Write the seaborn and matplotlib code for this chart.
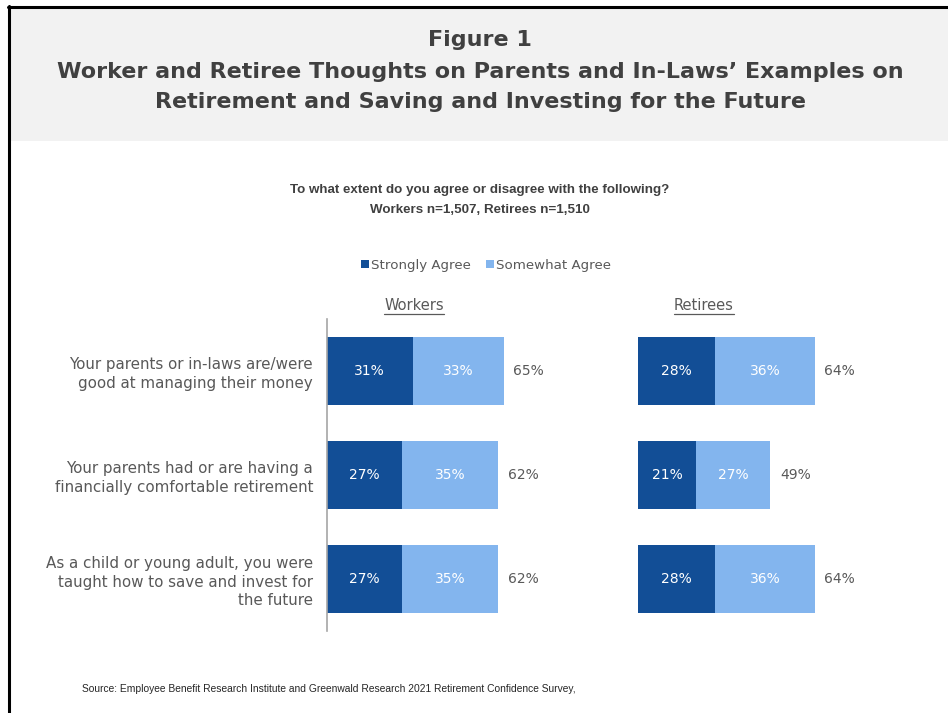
import matplotlib
matplotlib.use("Agg")
import matplotlib.pyplot as plt
from matplotlib.lines import Line2D
from matplotlib.patches import Patch, Rectangle
import seaborn as sns
import pandas as pd

# ---- data ----
statements = [
    "Your parents or in-laws are/were\ngood at managing their money",
    "Your parents had or are having a\nfinancially comfortable retirement",
    "As a child or young adult, you were\ntaught how to save and invest for\nthe future",
]
workers_strongly = [31, 27, 27]
workers_somewhat = [33, 35, 35]
workers_total = [65, 62, 62]
retirees_strongly = [28, 21, 28]
retirees_somewhat = [36, 27, 36]
retirees_total = [64, 49, 64]
series_names = ["Strongly Agree", "Somewhat Agree"]
panel_names = ["Workers", "Retirees"]

DARK = "#124E96"
LIGHT = "#83B5EE"
GRAY = "#595959"
FONT = "DejaVu Sans"

sns.set_theme(style="white")
plt.rcParams["font.family"] = [FONT]

W, H = 948, 713
fig = plt.figure(figsize=(W / 100, H / 100), dpi=100)
fig.patch.set_facecolor("white")

def fx(px):
    return px / W

def fy(py):
    return 1 - py / H

# header band and border
fig.add_artist(Rectangle((fx(10), fy(141)), fx(938), 132 / H, transform=fig.transFigure,
                         facecolor="#F2F2F2", edgecolor="none", zorder=0))
fig.add_artist(Line2D([fx(9), fx(9)], [fy(6), 0], transform=fig.transFigure, color="black", lw=2.2))
fig.add_artist(Line2D([fx(8), 1], [fy(7), fy(7)], transform=fig.transFigure, color="black", lw=2.2))

fig.text(fx(480), fy(40), "Figure 1", ha="center", va="center", fontsize=16,
         fontweight="bold", color="#404040")
fig.text(fx(480), fy(72), "Worker and Retiree Thoughts on Parents and In-Laws\u2019 Examples on",
         ha="center", va="center", fontsize=16, fontweight="bold", color="#404040")
fig.text(fx(480), fy(102), "Retirement and Saving and Investing for the Future",
         ha="center", va="center", fontsize=16, fontweight="bold", color="#404040")

fig.text(fx(480), fy(190), "To what extent do you agree or disagree with the following?",
         ha="center", va="center", fontsize=9.6, fontweight="bold", color="#404040",
         family="Liberation Sans")
fig.text(fx(480), fy(210), "Workers n=1,507, Retirees n=1,510",
         ha="center", va="center", fontsize=9.6, fontweight="bold", color="#404040",
         family="Liberation Sans")

handles = [Patch(facecolor=DARK, edgecolor="none"), Patch(facecolor=LIGHT, edgecolor="none")]
fig.legend(handles, series_names, loc="center", bbox_to_anchor=(fx(486), fy(265)), ncol=2,
           frameon=False, fontsize=9.6, handlelength=0.6, handleheight=0.6, handletextpad=0.15,
           columnspacing=1.2, labelcolor=GRAY)

ax_w = fig.add_axes([fx(327), fy(631), fx(276), 312 / H])
ax_r = fig.add_axes([fx(638), fy(631), fx(276), 312 / H])

panels = [
    (ax_w, workers_strongly, workers_somewhat, workers_total),
    (ax_r, retirees_strongly, retirees_somewhat, retirees_total),
]
for ax, strong, some, tot in panels:
    df = pd.DataFrame({
        "statement": statements,
        "strong": strong,
        "cum": [a + b for a, b in zip(strong, some)],
        "some": some,
        "total": tot,
    })
    sns.barplot(data=df, y="statement", x="cum", color=LIGHT, saturation=1, width=0.65,
                orient="h", ax=ax, edgecolor="none")
    sns.barplot(data=df, y="statement", x="strong", color=DARK, saturation=1, width=0.65,
                orient="h", ax=ax, edgecolor="none")
    for i, row in df.iterrows():
        ax.text(row["strong"] / 2, i, f"{row['strong']}%", ha="center", va="center",
                color="white", fontsize=10)
        ax.text(row["strong"] + row["some"] / 2, i, f"{row['some']}%", ha="center",
                va="center", color="white", fontsize=10)
        ax.text(row["cum"] + 3.5, i, f"{row['total']}%", ha="left", va="center",
                color=GRAY, fontsize=10)
    ax.set_xlim(0, 100)
    ax.set_ylim(2.5, -0.5)
    ax.set_xlabel("")
    ax.set_ylabel("")
    ax.set_xticks([])
    ax.set_facecolor("none")
    for s in ["top", "right", "bottom"]:
        ax.spines[s].set_visible(False)

ax_w.spines["left"].set_color("#A6A6A6")
ax_w.spines["left"].set_linewidth(1.2)
ax_w.set_yticks(range(len(statements)))
ax_w.set_yticklabels(statements, fontsize=10.9, color=GRAY, ha="right", linespacing=1.3)
ax_w.tick_params(axis="y", length=0, pad=10)
ax_r.spines["left"].set_visible(False)
ax_r.set_yticks([])

# panel headers (underlined)
for name, cx in zip(panel_names, [414, 704]):
    t = fig.text(fx(cx), fy(305), name, ha="center", va="center", fontsize=10.5, color=GRAY)
fig.canvas.draw()
r = fig.canvas.get_renderer()
for t in fig.texts[-2:]:
    bb = t.get_window_extent(r)
    fig.add_artist(Line2D([bb.x0 / W, bb.x1 / W], [fy(314), fy(314)],
                          transform=fig.transFigure, color=GRAY, lw=0.9))

fig.text(fx(82), fy(689), "Source: Employee Benefit Research Institute and Greenwald Research 2021 Retirement Confidence Survey,",
         ha="left", va="center", fontsize=7.4, color="#262626", family="Liberation Sans")

fig.savefig("out.png", dpi=100)
